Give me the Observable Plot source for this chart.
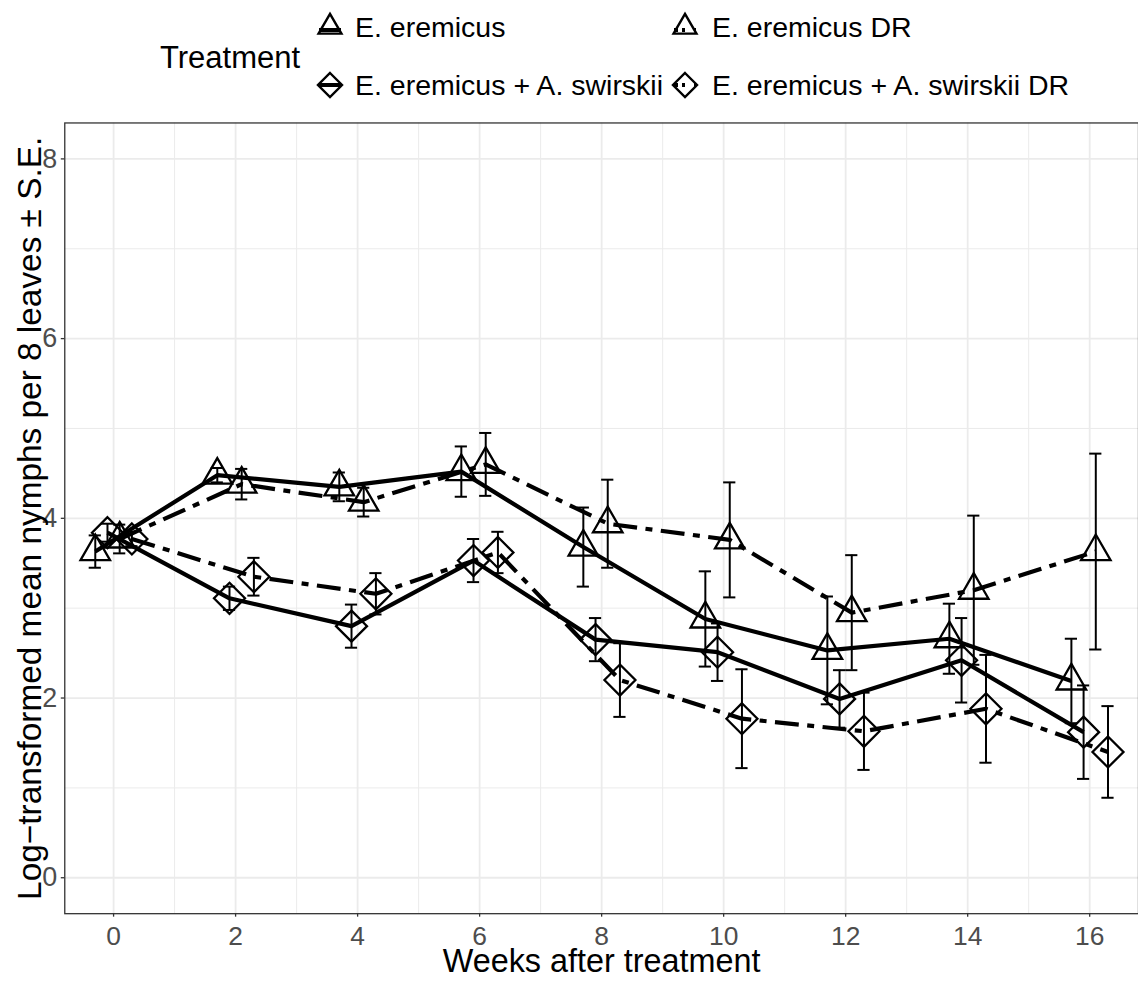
<!DOCTYPE html>
<html>
<head>
<meta charset="utf-8">
<script src="https://cdn.jsdelivr.net/npm/d3@7"></script>
<script src="https://cdn.jsdelivr.net/npm/@observablehq/plot@0.6"></script>
<style>
  html, body { margin: 0; padding: 0; background: #fff; overflow: hidden; width: 1138px; height: 981px; }
  body { font-family: "Liberation Sans", Arial, Helvetica, sans-serif; }
  #legend { width: 1138px; height: 112px; }
  #chart { width: 1138px; height: 869px; overflow: hidden; }
</style>
</head>
<body>
<div id="legend"></div>
<div id="chart"></div>
<script>
// Weeks after treatment
const weeks = [0, 2, 4, 6, 8, 10, 12, 14, 16];

// Treatments, in dodge order
const treatments = [
  "E. eremicus",
  "E. eremicus + A. swirskii",
  "E. eremicus DR",
  "E. eremicus + A. swirskii DR"
];

// Log-transformed mean nymphs per 8 leaves and standard errors, per treatment
const meanE    = [3.63, 4.48, 4.35, 4.52, 3.68, 2.88, 2.53, 2.66, 2.19];
const seE      = [0.18, 0.08, 0.16, 0.28, 0.44, 0.53, 0.60, 0.39, 0.47];
const meanEA   = [3.84, 3.11, 2.80, 3.53, 2.65, 2.51, 1.99, 2.42, 1.62];
const seEA     = [0.10, 0.13, 0.24, 0.24, 0.24, 0.32, 0.32, 0.47, 0.52];
const meanEDR  = [3.77, 4.38, 4.18, 4.60, 3.94, 3.76, 2.95, 3.20, 3.63];
const seEDR    = [0.16, 0.17, 0.16, 0.35, 0.49, 0.64, 0.64, 0.83, 1.09];
const meanEADR = [3.77, 3.35, 3.16, 3.62, 2.20, 1.77, 1.63, 1.88, 1.40];
const seEADR   = [0.08, 0.21, 0.23, 0.23, 0.41, 0.55, 0.43, 0.60, 0.51];

// Axis ticks
const xTicks = [0, 2, 4, 6, 8, 10, 12, 14, 16];
const xMinor = [1, 3, 5, 7, 9, 11, 13, 15];
const yTicks = [0, 2, 4, 6, 8];
const yMinor = [1, 3, 5, 7];

const means = [meanE, meanEA, meanEDR, meanEADR];
const ses = [seE, seEA, seEDR, seEADR];

// position_dodge(0.8) for four groups
const dodgeWidth = 0.8;
const offset = i => (i - 1.5) * dodgeWidth / treatments.length;

const rows = [];
treatments.forEach((trt, i) => {
  weeks.forEach((w, j) => {
    rows.push({
      trt,
      group: i,
      week: w,
      xd: w + offset(i),
      mean: means[i][j],
      lo: means[i][j] - ses[i][j],
      hi: means[i][j] + ses[i][j],
      shape: trt.includes("swirskii") ? "diamond" : "triangle"
    });
  });
});

// Open triangle (centroid-centred) and square diamond, like R's pch 2 and pch 5
const triangleSym = {
  draw(ctx, size) {
    const u = Math.sqrt(size / Math.PI);
    const r = 1.555 * u, xc = 1.347 * u, yc = 0.778 * u;
    ctx.moveTo(0, -r);
    ctx.lineTo(xc, yc);
    ctx.lineTo(-xc, yc);
    ctx.closePath();
  }
};
const diamondSym = {
  draw(ctx, size) {
    const u = Math.sqrt(size / Math.PI);
    const d = 1.414 * u;
    ctx.moveTo(0, -d);
    ctx.lineTo(d, 0);
    ctx.lineTo(0, d);
    ctx.lineTo(-d, 0);
    ctx.closePath();
  }
};

const dash = "24,8.5,7,8.5";
const ink = "#000";
const gridColor = "#ebebeb";
const fontFamily = "'Liberation Sans', Arial, Helvetica, sans-serif";

const lineMarks = treatments.map((trt, i) =>
  Plot.line(rows.filter(d => d.group === i), {
    x: "xd", y: "mean",
    stroke: ink, strokeWidth: 4.2,
    strokeLinejoin: "round", strokeLinecap: "butt",
    strokeDasharray: trt.endsWith("DR") ? dash : null
  })
);

const chart = Plot.plot({
  width: 1142,
  height: 869,
  marginLeft: 64.5,
  marginRight: 0,
  marginTop: 10.5,
  marginBottom: 65,
  x: { domain: [-0.8, 16.8], axis: null },
  y: { domain: [-0.4, 8.4], axis: null },
  style: { fontFamily, background: "#fff", color: "#000" },
  marks: [
    Plot.gridX(xMinor, { stroke: gridColor, strokeOpacity: 1, strokeWidth: 1 }),
    Plot.gridY(yMinor, { stroke: gridColor, strokeOpacity: 1, strokeWidth: 1 }),
    Plot.gridX(xTicks, { stroke: gridColor, strokeOpacity: 1, strokeWidth: 1.8 }),
    Plot.gridY(yTicks, { stroke: gridColor, strokeOpacity: 1, strokeWidth: 1.8 }),
    Plot.frame({ stroke: "#333", strokeWidth: 1.3 }),
    Plot.axisX({
      ticks: xTicks, tickSize: 3.5, tickPadding: 9,
      fontSize: 26.5, stroke: "#333", fill: "#4d4d4d", strokeWidth: 1.3, label: null
    }),
    Plot.axisY({
      ticks: yTicks, tickSize: 3.5, tickPadding: 4,
      fontSize: 27, stroke: "#333", fill: "#4d4d4d", strokeWidth: 1.3, label: null
    }),
    Plot.text(["Weeks after treatment"], {
      text: d => d, frameAnchor: "bottom", textAnchor: "middle", dy: 48, lineAnchor: "middle",
      fontSize: 32.5, fill: "#000"
    }),
    Plot.text(["Log\u2212transformed mean nymphs per 8 leaves \u00b1 S.E."], {
      text: d => d, frameAnchor: "left", textAnchor: "middle", dx: -35, rotate: -90, lineAnchor: "middle",
      fontSize: 33.5, fill: "#000"
    }),
    ...lineMarks,
    Plot.ruleX(rows, { x: "xd", y1: "lo", y2: "hi", stroke: ink, strokeWidth: 2 }),
    Plot.ruleY(rows, { y: "lo", x1: d => d.xd - 0.1, x2: d => d.xd + 0.1, stroke: ink, strokeWidth: 2 }),
    Plot.ruleY(rows, { y: "hi", x1: d => d.xd - 0.1, x2: d => d.xd + 0.1, stroke: ink, strokeWidth: 2 }),
    Plot.dot(rows.filter(d => d.shape === "triangle"), {
      x: "xd", y: "mean", r: 11, symbol: triangleSym,
      fill: "none", stroke: ink, strokeWidth: 2.3
    }),
    Plot.dot(rows.filter(d => d.shape === "diamond"), {
      x: "xd", y: "mean", r: 11, symbol: diamondSym,
      fill: "none", stroke: ink, strokeWidth: 2.3
    })
  ]
});
document.getElementById("chart").appendChild(chart);

// Legend: title on the left, keys in a 2 x 2 grid
const legend = d3.select("#legend").append("svg")
  .attr("width", 1138).attr("height", 112)
  .style("font-family", fontFamily);

legend.append("text")
  .attr("x", 160).attr("y", 68)
  .attr("font-size", 31)
  .text("Treatment");

const keyPos = [
  { cx: 330, cy: 27, tx: 355 },
  { cx: 330, cy: 85, tx: 355 },
  { cx: 685, cy: 27, tx: 712 },
  { cx: 685, cy: 85, tx: 712 }
];
const keyU = 8.5;
treatments.forEach((trt, i) => {
  const p = keyPos[i];
  const g = legend.append("g").attr("transform", `translate(${p.cx},${p.cy})`);
  const isDR = trt.endsWith("DR");
  const isDiamond = trt.includes("swirskii");
  const sym = isDiamond ? diamondSym : triangleSym;
  const path = d3.path();
  sym.draw(path, keyU * keyU * Math.PI);
  const ly = isDiamond ? 0 : 3;
  g.append("line")
    .attr("x1", -11).attr("x2", 11)
    .attr("y1", ly).attr("y2", ly)
    .attr("stroke", ink).attr("stroke-width", 4)
    .attr("stroke-dasharray", isDR ? "4,4,3,9" : null);
  g.append("path")
    .attr("d", path.toString())
    .attr("fill", "none").attr("stroke", ink).attr("stroke-width", 2.4);
  legend.append("text")
    .attr("x", p.tx).attr("y", p.cy + 10)
    .attr("font-size", 28.5)
    .text(trt);
});
</script>
</body>
</html>
